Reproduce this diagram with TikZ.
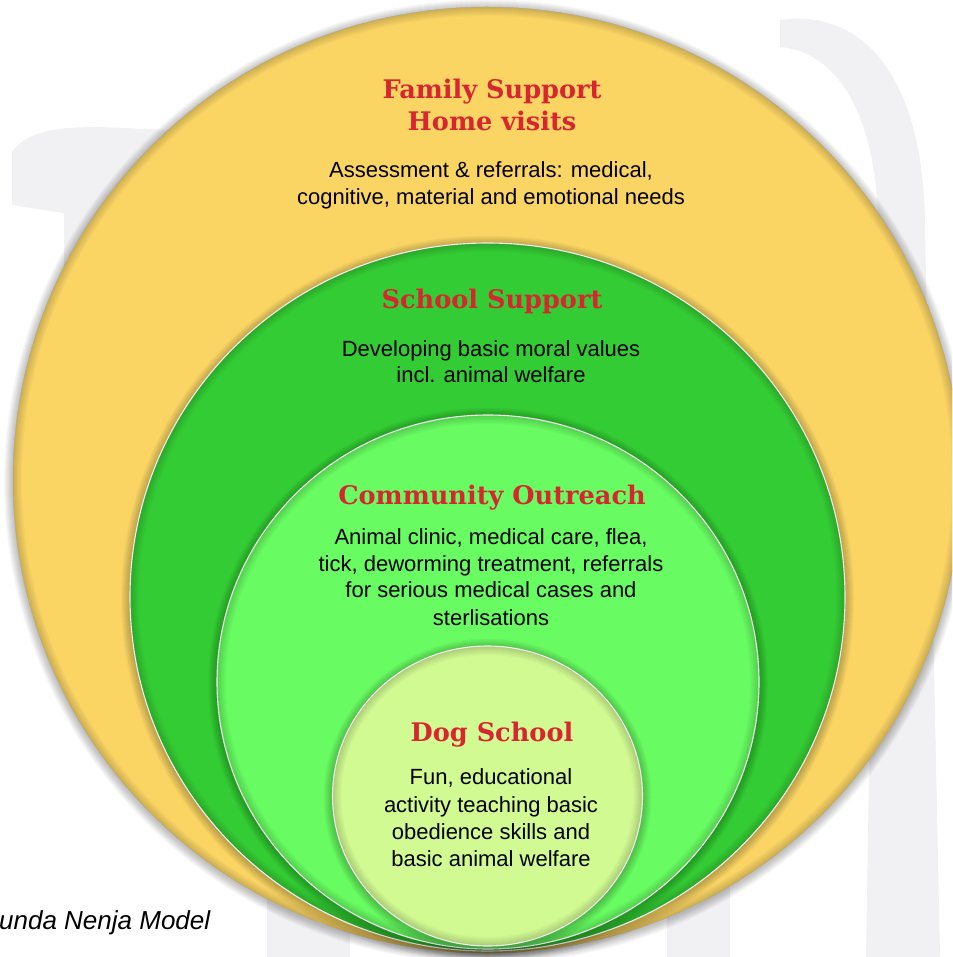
\documentclass[tikz,border=0pt]{standalone}
\usepackage{fontspec}
\setmainfont{Liberation Sans}
\newfontfamily\headfont{DejaVu Serif}[BoldFont={DejaVu Serif Bold}]
\definecolor{yellowF}{RGB}{250,213,100}
\definecolor{greenD}{RGB}{52,204,52}
\definecolor{greenL}{RGB}{104,252,98}
\definecolor{dogC}{RGB}{210,250,146}
\definecolor{headred}{RGB}{215,38,48}
\definecolor{wmark}{RGB}{241,241,243}
\tikzset{
  head/.style={anchor=base, inner sep=0pt, text=headred, font=\headfont\bfseries\fontsize{25.6}{30}\selectfont},
  body/.style={anchor=base, inner sep=0pt, text=black, font=\fontsize{22}{27}\selectfont},
  rimline/.style={draw=white!88!gray, line width=1.1pt},
  outerline/.style={draw=black!35, line width=0.5pt, opacity=0.6},
}
\newcommand{\ringdisk}[6]{% cx cy rx ry colour rimstyle
  \foreach \k in {1,...,9}{\fill[black,opacity=0.028] (#1,#2+1.5) ellipse ({#3+\k} and {#4+\k});}
  \fill[#5] (#1,#2) ellipse ({#3} and {#4});
  \foreach \k in {1,...,9}{\fill[black,opacity=0.018,even odd rule] (#1,#2) ellipse ({#3} and {#4}) (#1,#2) ellipse ({#3-\k} and {#4-\k});}
  \draw[#6] (#1,#2) ellipse ({#3} and {#4});
}
\begin{document}
\begin{tikzpicture}[x=1pt,y=-1pt]
\useasboundingbox (0,0) rectangle (952,957);
\clip (0,0) rectangle (952,957);
\fill[white] (0,0) rectangle (952,957);
% watermark shapes
\fill[wmark] (780,20) .. controls (865,8) and (925,80) .. (925,230) -- (940,957) -- (866,957) -- (878,230) .. controls (878,120) and (840,52) .. (780,47) -- cycle;
\fill[wmark] (12,205) -- (12,152) .. controls (28,130) and (60,127) .. (100,127) -- (170,130) -- (170,420) -- (64,420) -- (64,213) -- cycle;
\fill[wmark] (667,800) rectangle (730,957);
\fill[wmark] (267,800) rectangle (350,957);
% circles
\ringdisk{487}{480}{474}{473}{yellowF}{outerline}
\ringdisk{487.5}{597}{357.5}{354}{greenD}{rimline}
\ringdisk{488}{682}{271}{267}{greenL}{rimline}
\ringdisk{487.5}{796}{155}{150}{dogC}{rimline}
% texts
\node[head] (fam1) at (492,99) {Family Support};
\node[head] (fam2) at (492,131) {Home visits};
\node[body] (famb1) at (491,177.5) {Assessment \& referrals: medical,};
\node[body] (famb2) at (491,204.5) {cognitive, material and emotional needs};
\node[head] (sch) at (492,308) {School Support};
\node[body] (schb1) at (491,356) {Developing basic moral values};
\node[body] (schb2) at (491,382.5) {incl. animal welfare};
\node[head] (com) at (492,504) {Community Outreach};
\node[body] (comb1) at (491,544) {Animal clinic, medical care, flea,};
\node[body] (comb2) at (491,571) {tick, deworming treatment, referrals};
\node[body] (comb3) at (491,597.5) {for serious medical cases and};
\node[body] (comb4) at (491,625) {sterlisations};
\node[head] (dog) at (492,741) {Dog School};
\node[body] (dogb1) at (491,784.5) {Fun, educational};
\node[body] (dogb2) at (491,812) {activity teaching basic};
\node[body] (dogb3) at (491,839) {obedience skills and};
\node[body] (dogb4) at (491,866) {basic animal welfare};
\node[anchor=base west, inner sep=0pt, font=\itshape\fontsize{26}{30}\selectfont] (cap) at (-1,929) {unda Nenja Model};
\end{tikzpicture}
\end{document}
